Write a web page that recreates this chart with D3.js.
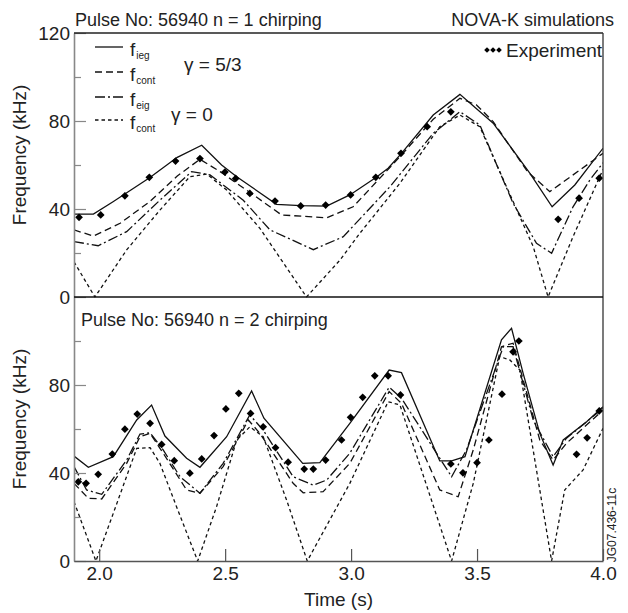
<!DOCTYPE html>
<html><head><meta charset="utf-8">
<script src="https://cdn.jsdelivr.net/npm/d3@7"></script>
<style>
html,body{margin:0;padding:0;background:#fff;}
text{font-family:"Liberation Sans",Arial,Helvetica,sans-serif;fill:#222;}
</style></head>
<body><svg id="c" width="628" height="613"></svg>
<script>
// ---------- data (time in s, frequency in kHz) ----------
// Panel 1: n = 1
const t1_ieg53 = [1.9,1.977,2.055,2.20,2.31,2.407,2.486,2.546,2.704,2.80,2.903,2.995,3.10,3.147,3.20,3.326,3.432,3.564,3.71,3.798,3.888,4.0];
const f1_ieg53 = [37.7,37.7,43.3,54.2,63.5,69,60,54.7,42.1,41.5,41.3,46.4,54.4,58.5,65.3,82.7,92.1,79,56.2,41,50.9,67.6];
const t1_cont53 = [1.9,1.977,2.083,2.2,2.31,2.4,2.48,2.585,2.724,2.903,3.008,3.194,3.326,3.432,3.498,3.564,3.70,3.789,4.0];
const f1_cont53 = [30.5,27.7,33.5,43.3,55,62.6,57,48.6,37.3,36,41,63.8,80.8,90.3,87.3,79.7,57,47.9,65.3];
const t1_eig0 = [1.9,1.996,2.109,2.241,2.367,2.44,2.572,2.678,2.85,2.969,3.154,3.326,3.432,3.511,3.643,3.736,3.796,3.881,3.948,4.0];
const f1_eig0 = [25.2,23.3,29.7,44,57,55.5,44,30.5,21.5,27.4,50.1,74.4,84.2,78.2,42.6,24.4,19.9,41,53.2,61];
const t1_cont0 = [1.9,1.983,2.109,2.241,2.36,2.427,2.506,2.638,2.823,2.956,3.035,3.194,3.352,3.432,3.511,3.617,3.723,3.782,3.881,4.0];
const f1_cont0 = [16,0,21.4,39.5,54.7,55.9,48.6,31.2,0,16.8,29,51.7,77.4,82.7,77.4,50.1,22.9,0,27.4,58];
const t1_exp = [1.92,2.006,2.102,2.199,2.303,2.40,2.499,2.542,2.598,2.698,2.80,2.899,2.998,3.098,3.198,3.302,3.396,3.822,3.905,3.985];
const f1_exp = [36.2,37.3,46,54.4,61.8,62.9,56.8,53.9,47.1,43.6,41.4,41.8,46.4,54.4,65.3,77.4,84.2,35.3,44.9,54];

// Panel 2: n = 2
const t2_ieg53 = [1.9,1.957,2.056,2.149,2.208,2.261,2.347,2.40,2.506,2.605,2.654,2.808,2.876,2.995,3.151,3.20,3.352,3.399,3.452,3.597,3.637,3.683,3.749,3.802,3.842,3.935,4.0];
const f2_ieg53 = [47.7,42.6,47.4,64.1,70.9,56.8,46.7,42.6,56.5,77.3,64.9,44.4,44.7,62.6,86.8,85.6,45.5,45.5,47.4,100.5,105.8,85.3,58,43.6,55,63.3,70.1];
const t2_cont53 = [1.9,1.957,2.01,2.109,2.162,2.202,2.254,2.347,2.40,2.492,2.592,2.638,2.77,2.81,2.889,2.995,3.151,3.20,3.352,3.425,3.485,3.597,3.643,3.749,3.802,3.855,4.0];
const f2_cont53 = [35.3,28.5,28.2,44.4,56.5,58,49,32.3,30.8,42.9,64.1,58,35.3,31,31.5,44.4,77,71.7,32.3,29.2,50.5,97.4,99,55,45.9,53.5,68.6];
const t2_eig0 = [1.9,1.95,2.01,2.109,2.162,2.202,2.254,2.321,2.40,2.492,2.598,2.651,2.77,2.85,2.903,2.995,3.151,3.20,3.399,3.458,3.604,3.643,3.723,3.802,3.855,4.0];
const f2_eig0 = [42.9,32.3,30.3,45.9,57.7,58.3,50.5,38.3,30.8,44.4,66.4,59.5,38.3,34.5,36.8,49,79,74,38.3,50.5,97.4,97.4,64.1,47.4,55.8,69.4];
const t2_cont0 = [1.9,1.987,2.056,2.149,2.202,2.241,2.307,2.391,2.466,2.546,2.598,2.651,2.744,2.826,2.995,3.147,3.194,3.399,3.485,3.59,3.63,3.67,3.796,3.848,3.921,4.0];
const f2_cont0 = [27,0,21.7,51.2,51.5,44.4,24.7,0,24.7,55,61,56.5,27.7,0,35.3,72.4,70.9,0,35.3,92.9,91.4,86.8,0,32.3,41.4,60.3];
const t2_exp = [1.917,1.948,1.996,2.052,2.102,2.151,2.202,2.248,2.298,2.36,2.407,2.456,2.503,2.554,2.601,2.651,2.70,2.75,2.814,2.85,2.899,2.962,2.998,3.046,3.094,3.147,3.196,3.396,3.444,3.50,3.547,3.599,3.643,3.666,3.895,3.937,3.985];
const f2_exp = [36,35.3,39.4,48.6,59.9,66.8,62.6,53,45.6,39.9,46.4,57,69.1,76.2,67.1,61,51.5,44.9,41.8,41.8,45.9,55,65.3,74.4,84.2,84.2,75.5,44.1,40.1,44.7,55,75.8,95.1,100,48.5,56,68.2];

const xTicks = [2.0,2.5,3.0,3.5,4.0];
const yMajor1 = [0,40,80,120];
const yMajor2 = [0,40,80];
const yMinor = [20,60,100];
const titles = ["Pulse No: 56940 n = 1 chirping","Pulse No: 56940 n = 2 chirping"];
const legendSubs = ["ieg","cont","eig","cont"];
const gammaLabels = ["\u03b3 = 5/3","\u03b3 = 0"];

// ---------- layout ----------
const svg = d3.select("#c");
const L = 74, R = 603;
const panels = [{top:33,bot:297},{top:297,bot:561}];
const x = d3.scaleLinear().domain([1.9,4.0]).range([L,R]);
const styles = {
  ieg:{dash:null},
  cont53:{dash:"7,4"},
  eig:{dash:"10,3,2,3"},
  cont0:{dash:"3.5,3"}
};

const pdata = [
  {lines:[[t1_cont0,f1_cont0,"cont0"],[t1_eig0,f1_eig0,"eig"],[t1_cont53,f1_cont53,"cont53"],[t1_ieg53,f1_ieg53,"ieg"]], exp:[t1_exp,f1_exp], major:yMajor1},
  {lines:[[t2_cont0,f2_cont0,"cont0"],[t2_eig0,f2_eig0,"eig"],[t2_cont53,f2_cont53,"cont53"],[t2_ieg53,f2_ieg53,"ieg"]], exp:[t2_exp,f2_exp], major:yMajor2}
];

pdata.forEach((pd,i)=>{
  const p = panels[i];
  const y = d3.scaleLinear().domain([0,120]).range([p.bot,p.top]);
  const g = svg.append("g");
  g.append("clipPath").attr("id","clip"+i).append("rect")
    .attr("x",L).attr("y",p.top-1).attr("width",R-L).attr("height",p.bot-p.top+1.5);
  const line = d3.line().x(d=>x(d[0])).y(d=>y(d[1]));
  const lg = g.append("g").attr("clip-path",`url(#clip${i})`);
  pd.lines.forEach(([ts,fs,k])=>{
    lg.append("path").datum(ts.map((t,j)=>[t,fs[j]]))
      .attr("d",line).attr("fill","none").attr("stroke","#111")
      .attr("stroke-width",1.3).attr("stroke-linejoin","miter")
      .attr("stroke-dasharray",styles[k].dash);
  });
  const sym = d3.symbol(d3.symbolSquare,30);
  lg.selectAll("path.exp").data(pd.exp[0].map((t,j)=>[t,pd.exp[1][j]])).join("path")
    .attr("class","exp").attr("d",sym)
    .attr("transform",d=>`translate(${x(d[0])},${y(d[1])}) rotate(45)`)
    .attr("fill","#000");

  // left axis (major)
  const ax = d3.axisLeft(y).tickValues(pd.major).tickSizeInner(-12).tickSizeOuter(0).tickPadding(4).tickFormat(d3.format("d"));
  const ag = g.append("g").attr("transform",`translate(${L},0)`).call(ax);
  ag.select(".domain").attr("stroke","#888").attr("stroke-width",1.6);
  ag.selectAll(".tick line").attr("stroke","#888").attr("stroke-width",1.2);
  ag.selectAll(".tick text").style("font-size","19px").attr("fill","#222").style("font-family","'Liberation Sans',Arial,sans-serif");
  const am = d3.axisLeft(y).tickValues(yMinor).tickSizeInner(-7).tickSizeOuter(0).tickFormat("");
  const amg = g.append("g").attr("transform",`translate(${L},0)`).call(am);
  amg.select(".domain").remove();
  amg.selectAll(".tick line").attr("stroke","#888").attr("stroke-width",1.2);

  // y label
  g.append("text").attr("transform",`translate(26,${(p.top+p.bot)/2 - 10}) rotate(-90)`)
    .attr("text-anchor","middle").style("font-size","19px").text("Frequency (kHz)");
});

// frame lines
svg.append("line").attr("x1",L).attr("x2",R).attr("y1",33).attr("y2",33).attr("stroke","#222").attr("stroke-width",1.3);
svg.append("line").attr("x1",R).attr("x2",R).attr("y1",33).attr("y2",561).attr("stroke","#333").attr("stroke-width",1.3);
svg.append("line").attr("x1",L).attr("x2",R).attr("y1",297).attr("y2",297).attr("stroke","#111").attr("stroke-width",1.4);

// bottom axis
const xa = d3.axisBottom(x).tickValues(xTicks).tickSizeInner(-12).tickSizeOuter(0).tickPadding(6).tickFormat(d3.format(".1f"));
const xg = svg.append("g").attr("transform","translate(0,561)").call(xa);
xg.select(".domain").attr("stroke","#555").attr("stroke-width",1.4);
xg.selectAll(".tick line").attr("stroke","#555").attr("stroke-width",1.2);
xg.selectAll(".tick text").style("font-size","19px").attr("fill","#222").style("font-family","'Liberation Sans',Arial,sans-serif");
svg.append("text").attr("x",(L+R)/2).attr("y",606).attr("text-anchor","middle").style("font-size","19px").text("Time (s)");

// titles
svg.append("text").attr("x",75).attr("y",26).style("font-size","18px").text(titles[0]);
svg.append("text").attr("x",614).attr("y",26).attr("text-anchor","end").style("font-size","18px").text("NOVA-K simulations");
svg.append("text").attr("x",81).attr("y",326).style("font-size","18px").text(titles[1]);

// legend
const legKeys = ["ieg","cont53","eig","cont0"];
const legY = [47,72,97,120];
legKeys.forEach((k,i)=>{
  svg.append("line").attr("x1",95).attr("x2",123).attr("y1",legY[i]).attr("y2",legY[i])
    .attr("stroke","#111").attr("stroke-width",1.3).attr("stroke-dasharray",styles[k].dash);
  const t = svg.append("text").attr("x",130).attr("y",legY[i]+9).style("font-size","19px");
  t.append("tspan").text("f");
  t.append("tspan").attr("dy",3).attr("dx",1).style("font-size","10px").text(legendSubs[i]);
});
svg.append("text").attr("x",184).attr("y",71).style("font-size","19px").text(gammaLabels[0]);
svg.append("text").attr("x",171).attr("y",121).style("font-size","19px").text(gammaLabels[1]);

// experiment legend
const sym2 = d3.symbol(d3.symbolSquare,16);
[487,493,499].forEach(px=>{
  svg.append("path").attr("d",sym2).attr("transform",`translate(${px},50) rotate(45)`).attr("fill","#000");
});
svg.append("text").attr("x",506).attr("y",57).style("font-size","19px").text("Experiment");

// side id
svg.append("text").attr("transform","translate(616,525) rotate(-90)").attr("text-anchor","middle")
  .style("font-size","12px").text("JG07.436-11c");
</script></body></html>
